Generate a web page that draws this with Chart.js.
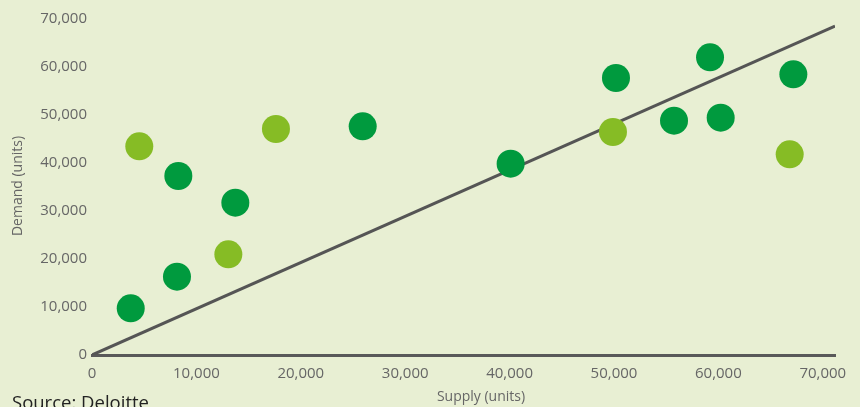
<!DOCTYPE html>
<html>
<head>
<meta charset="utf-8">
<script src="https://cdn.jsdelivr.net/npm/chart.js@4/dist/chart.umd.min.js"></script>
<style>
  html, body { margin: 0; padding: 0; background: #e8efd3; }
  #wrap { width: 860px; height: 407px; position: relative; }
</style>
</head>
<body>
<div id="wrap"><canvas id="c" width="860" height="407"></canvas></div>
<script>
// dark green markets
const darkSupply = [3710, 8140, 8270, 13730, 25930, 40100, 50190, 55750, 59200, 60220, 67180];
const darkDemand = [9730, 16310, 37290, 31730, 47650, 39850, 57710, 48810, 62020, 49440, 58480];
// light green markets
const lightSupply = [4530, 13060, 17620, 49900, 66830];
const lightDemand = [43480, 20980, 47080, 46460, 41810];
// reference line
const lineSupply = [0, 71170];
const lineDemand = [0, 68540];

const xTicks = [0, 10000, 20000, 30000, 40000, 50000, 60000, 70000];
const yTicks = [0, 10000, 20000, 30000, 40000, 50000, 60000, 70000];

const toPts = (xs, ys) => xs.map((x, i) => ({ x: x, y: ys[i] }));
const fmt = v => v.toLocaleString('en-US');

const textPlugin = {
  id: 'texts',
  afterDraw(chart) {
    const ctx = chart.ctx;
    ctx.save();
    ctx.fillStyle = '#666';
    ctx.font = '14px "Open Sans"';
    ctx.textAlign = 'center';
    ctx.textBaseline = 'middle';
    ctx.fillText('Supply (units)', 481, 397);
    ctx.translate(18, 186);
    ctx.rotate(-Math.PI / 2);
    ctx.fillText('Demand (units)', 0, 0);
    ctx.restore();
    ctx.save();
    ctx.fillStyle = '#222';
    ctx.font = '18.5px "Open Sans"';
    ctx.textAlign = 'left';
    ctx.textBaseline = 'top';
    ctx.fillText('Source: Deloitte', 12, 394);
    ctx.restore();
  }
};

new Chart(document.getElementById('c'), {
  type: 'scatter',
  data: {
    datasets: [
      {
        data: toPts(darkSupply, darkDemand),
        backgroundColor: '#009a3e',
        borderWidth: 0,
        pointRadius: 14,
        pointHoverRadius: 14,
        order: 1
      },
      {
        data: toPts(lightSupply, lightDemand),
        backgroundColor: '#86bc25',
        borderWidth: 0,
        pointRadius: 14,
        pointHoverRadius: 14,
        order: 1
      },
      {
        data: toPts(lineSupply, lineDemand),
        showLine: true,
        borderColor: '#555555',
        borderWidth: 3,
        pointRadius: 0,
        order: 2
      }
    ]
  },
  options: {
    responsive: false,
    animation: false,
    layout: { padding: { top: 19, right: 25, left: 0, bottom: 0 } },
    plugins: { legend: { display: false }, tooltip: { enabled: false } },
    scales: {
      x: {
        type: 'linear',
        min: 0,
        max: lineSupply[1],
        afterBuildTicks: s => { s.ticks = xTicks.map(v => ({ value: v })); },
        afterFit: s => { s.height = 52; },
        grid: { display: false, drawTicks: false },
        border: { display: true, color: '#595959', width: 3 },
        ticks: {
          padding: 10,
          color: '#666',
          font: { family: 'Open Sans', size: 15 },
          maxRotation: 0,
          callback: v => fmt(v)
        }
      },
      y: {
        type: 'linear',
        min: 0,
        max: 70000,
        afterBuildTicks: s => { s.ticks = yTicks.map(v => ({ value: v })); },
        afterFit: s => { s.width = 92; },
        grid: { display: false, drawTicks: false },
        border: { display: false },
        ticks: {
          padding: 5,
          color: '#666',
          font: { family: 'Open Sans', size: 15 },
          callback: v => fmt(v)
        }
      }
    }
  },
  plugins: [textPlugin]
});
</script>
</body>
</html>
